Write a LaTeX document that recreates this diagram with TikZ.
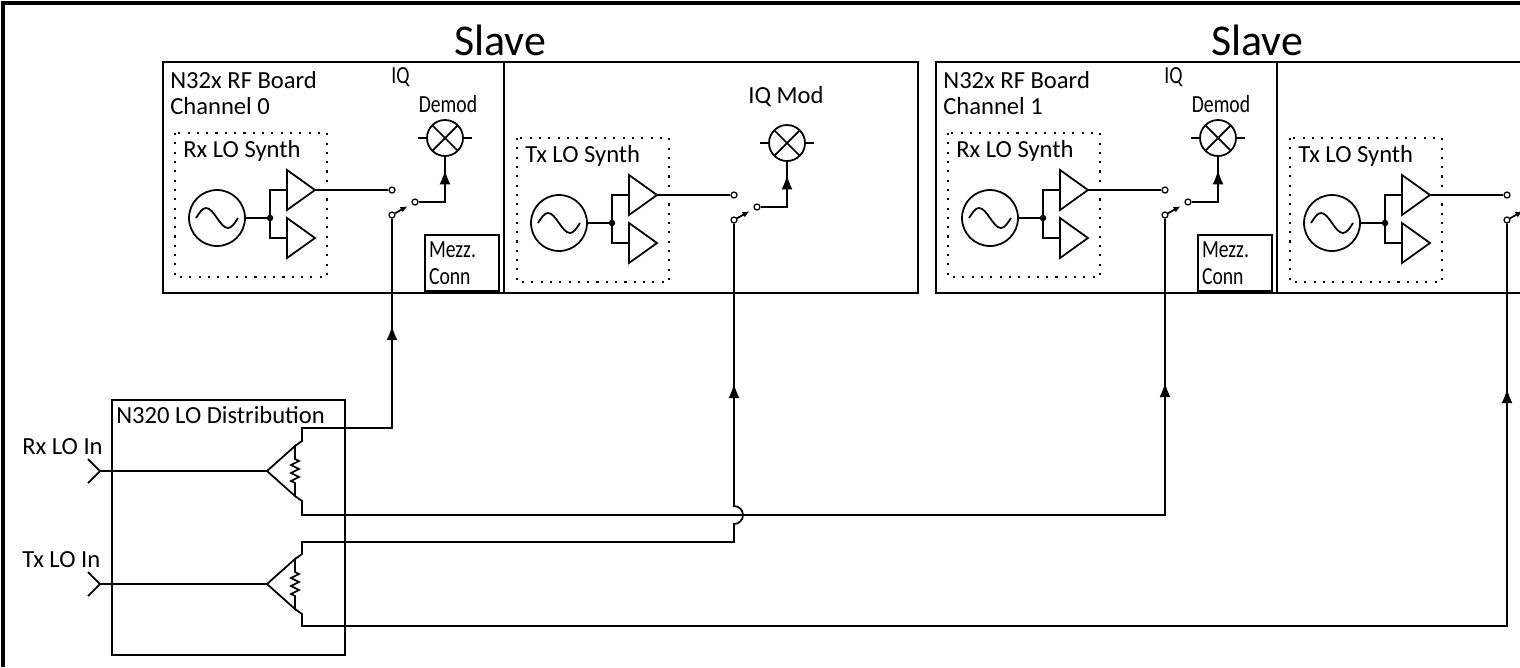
\documentclass[tikz,border=0pt]{standalone}
\usepackage{fontspec}
\setmainfont{Carlito}
\newfontfamily\narrowfont[FakeStretch=0.8]{Carlito}
\usetikzlibrary{arrows.meta,decorations.markings}

\tikzset{
    wire/.style={line width=1pt},
    board/.style={draw, line width=1.4pt},
    synthbox/.style={draw, line width=1.2pt, dash pattern=on 1.2pt off 4.1pt},
    lbl/.style={inner sep=0pt, font=\fontsize{14}{17}\selectfont},
    smalllbl/.style={inner sep=0pt, font=\narrowfont\fontsize{14}{15.4}\selectfont},
    titlelbl/.style={inner sep=0pt, font=\fontsize{25}{30}\selectfont},
    contact/.style={circle, draw, fill=white, line width=0.7pt, inner sep=0pt, minimum size=0.12cm},
    osc/.style={circle, draw, line width=1pt, inner sep=0pt, minimum size=1.12cm},
    mixer/.style={circle, draw, line width=1pt, inner sep=0pt, minimum size=0.72cm,
        path picture={\draw[line width=1pt]
            (path picture bounding box.north west) -- (path picture bounding box.south east)
            (path picture bounding box.north east) -- (path picture bounding box.south west);}},
    tipat/.style={postaction={decorate}, decoration={markings,
        mark=at position #1 with {\arrow{Latex[length=2.9mm,width=2.2mm]}}}},
}

\begin{document}
\begin{tikzpicture}[x=0.02cm, y=-0.02cm]
    \pgfmathsetmacro\boardtop{62};
    \pgfmathsetmacro\boardbot{293};

    \useasboundingbox (0,0) rectangle (1520,667);
    \clip (0,0) rectangle (1520,667);
    \draw[line width=2.4pt] (3,667) -- (3,3) -- (1520,3);

    \foreach \ch/\dx/\tx in {0/0/500, 1/773/1257} {
        \node[titlelbl] (slave\ch) at (\tx,40) {Slave};
        \draw[board] (163+\dx,\boardtop) rectangle (504+\dx,\boardbot);
        \draw[board] (504+\dx,\boardtop) rectangle (918+\dx,\boardbot);
        \node[lbl, anchor=west] (board\ch) at (170+\dx,80) {N32x RF Board};
        \node[lbl, anchor=west] (chan\ch) at (170+\dx,106) {Channel \ch};
        \node[smalllbl, anchor=west] (iq\ch) at (391+\dx,77) {IQ};
        \node[smalllbl] (demod\ch) at (448+\dx,104) {Demod};
        \node[smalllbl, draw, line width=1pt, inner xsep=0.08cm, minimum width=1.48cm,
            minimum height=1.12cm, text width=1.32cm, align=left] (mezz\ch) at (462+\dx,263) {Mezz.\\Conn};

        \foreach \kind/\ox/\oy/\nm in {rx/175/133/Rx, tx/517/138/Tx} {
            \begin{scope}[shift={(\ox+\dx,\oy)}]
                \draw[synthbox] (0,0) rectangle (152,144);
                \node[lbl, anchor=west] (\kind synth\ch) at (8,18) {\nm\ LO Synth};
                \node[osc] (\kind osc\ch) at (42,85) {};
                \draw[wire] (21,85) sin (31,75) cos (42,85) sin (53,95) cos (63,85);
                \coordinate (\kind jn\ch) at (95,85);
                \coordinate (\kind amp\ch) at (140,57);
                \draw[wire] (112,37) -- (\kind amp\ch) -- (112,77) -- cycle;
                \draw[wire] (112,85) -- (140,105) -- (112,125) -- cycle;
                \draw[wire] (\kind osc\ch) -- (\kind jn\ch);
                \draw[wire] (112,57) -| (\kind jn\ch) |- (112,105);
                \fill (\kind jn\ch) circle[radius=0.065cm];
                \node[contact] (\kind a\ch) at (217,57) {};
                \node[contact] (\kind sw\ch) at (217,82) {};
                \node[contact] (\kind c\ch) at (240,69) {};
                \draw[wire] (\kind amp\ch) -- (\kind a\ch);
                \draw[wire, -{Latex[length=1.4mm,width=1.2mm]}, shorten >=1mm] (\kind sw\ch) -- (\kind c\ch);
                \node[mixer] (\kind mix\ch) at (270,5) {};
                \draw[wire] (\kind mix\ch.west) -- ++(-8,0) (\kind mix\ch.east) -- ++(8,0);
                \draw[wire, tipat=-0.26cm] (\kind c\ch) -| (\kind mix\ch);
            \end{scope}
        }
    }
    \node[lbl] (iqmod0) at (786,97) {IQ Mod};

    \draw[wire] (112,400) rectangle (345,655);
    \node[lbl, anchor=west] (dist) at (116,415) {N320 LO Distribution};
    \foreach \kind/\ty/\nm in {rx/471/Rx, tx/584/Tx} {
        \node[lbl, anchor=west] (\kind inlbl) at (22,\ty-24) {\nm\ LO In};
        \coordinate (\kind in) at (100,\ty);
        \coordinate (\kind tip) at (267,\ty);
        \coordinate (\kind hi) at (295,\ty-25);
        \coordinate (\kind lo) at (295,\ty+25);
        \draw[wire] (88,\ty-12) -- (\kind in) -- (88,\ty+12);
        \draw[wire] (\kind in) -- (\kind tip);
        \draw[wire] (\kind tip) -- (\kind hi) -- ++(0,13) -- ++(4,2) -- ++(-8,4) -- ++(8,4)
            -- ++(-8,4) -- ++(8,4) -- ++(-8,4) -- ++(4,2) -- (\kind lo) -- cycle;
    }

    \coordinate (hop) at (txsw0 |- 0,515);
    \draw[wire, tipat=-2.14cm] (rxhi) -- ++(7,-5) -- ++(0,-13) -| (rxsw0);
    \draw[wire, tipat=-3.28cm] (rxlo) -- ++(7,5) -- ++(0,14) -| (rxsw1);
    \draw[wire, tipat=-3.2cm] (txhi) -- ++(7,-5) -- ++(0,-12) -| ([yshift=-0.18cm]hop)
        arc[start angle=-90, end angle=90, radius=0.18cm] -- (txsw0);
    \draw[wire, tipat=-3.3cm] (txlo) -- ++(7,5) -- ++(0,12) -| (txsw1);
\end{tikzpicture}
\end{document}
